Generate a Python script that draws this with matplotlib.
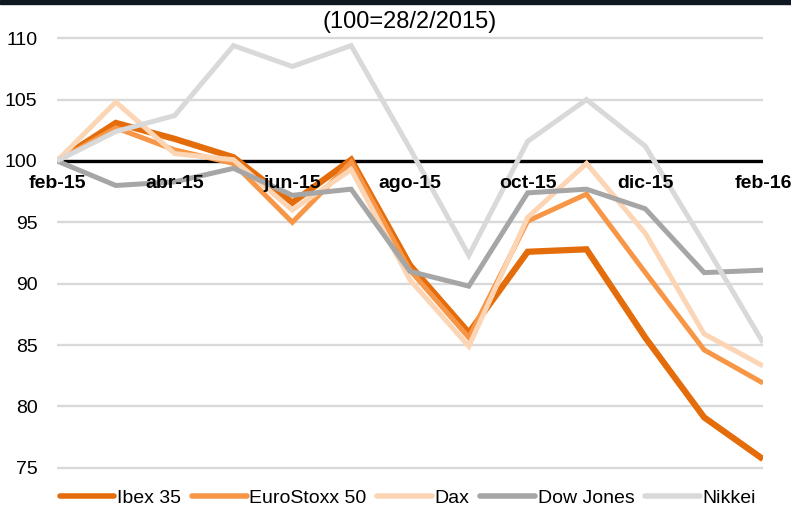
import matplotlib
matplotlib.use("Agg")
import matplotlib.pyplot as plt
from matplotlib.patches import Rectangle

plt.rcParams['font.family'] = ['Liberation Sans', 'DejaVu Sans']

months = ["feb-15", "mar-15", "abr-15", "may-15", "jun-15", "jul-15", "ago-15",
		"sep-15", "oct-15", "nov-15", "dic-15", "ene-16", "feb-16"]

ibex = [100, 103.1, 101.8, 100.3, 96.6, 100.1, 91.5, 86.0, 92.6, 92.8, 85.6, 79.1, 75.7]
eurostoxx = [100, 102.7, 100.9, 99.8, 95.0, 99.9, 91.1, 85.6, 95.1, 97.3, 90.9, 84.6, 81.9]
dax = [100, 104.8, 100.6, 100.1, 96.0, 99.3, 90.3, 84.9, 95.4, 99.8, 94.1, 85.9, 83.3]
dowjones = [100, 98.0, 98.3, 99.4, 97.2, 97.7, 91.0, 89.8, 97.4, 97.7, 96.1, 90.9, 91.1]
nikkei = [100, 102.4, 103.7, 109.4, 107.7, 109.4, 101.0, 92.3, 101.6, 105.0, 101.2, 93.3, 85.2]

series = [
	( "Ibex 35", ibex, "#E46C0A", 4.5 ),
	( "EuroStoxx 50", eurostoxx, "#F79646", 3.6 ),
	( "Dax", dax, "#FCD5B5", 3.6 ),
	( "Dow Jones", dowjones, "#A6A6A6", 3.6 ),
	( "Nikkei", nikkei, "#D9D9D9", 3.6 ),
]

yticks = [75, 80, 85, 90, 95, 100, 105, 110]
title = "(100=28/2/2015)"

fig = plt.figure( figsize=(7.91, 5.09), dpi=100 )
fig.patches.append( Rectangle( (0, 1 - 4/509.), 1, 4/509., transform=fig.transFigure,
		color="#0f1720", zorder=10 ) )

ax = fig.add_axes( [57/791., 0.057, (763-57)/791., 0.961-0.057] )
x = list(range(len(months)))

for name, vals, col, lw in series:
	ax.plot( x, vals, color=col, lw=lw, label=name, solid_joinstyle='miter',
		solid_capstyle='butt', zorder=3 )

ax.axhline( 100, color="black", lw=2.4, zorder=2 )

ax.set_xlim( 0, len(months)-1 )
ax.set_ylim( 74, 111.5 )
ax.set_yticks( yticks )
ax.set_yticklabels( [str(t) for t in yticks], fontsize=14 )
ax.tick_params( axis='y', length=0, pad=14 )
ax.set_xticks( [] )
ax.yaxis.grid( True, color="#D9D9D9", lw=1.7 )
ax.set_axisbelow( True )
for s in ax.spines.values():
	s.set_visible(False)

for i in range(0, len(months), 2):
	ax.annotate( months[i], (i, 100), xytext=(0, -16.5), textcoords='offset points',
		ha='center', va='center', fontsize=14, fontweight='bold', zorder=4 )

fig.text( 410/791., 1 - 22/509., title, ha='center', va='center', fontsize=17 )

leg = fig.legend( loc='center', bbox_to_anchor=(408/791., 1 - 498/509.), ncol=5,
	frameon=False, fontsize=14, handlelength=2.8, handletextpad=0.15,
	columnspacing=0.55, borderaxespad=0 )
for h in leg.get_lines():
	h.set_linewidth(4)
	h.set_solid_capstyle('round')

fig.savefig( "out.png", dpi=100 )
